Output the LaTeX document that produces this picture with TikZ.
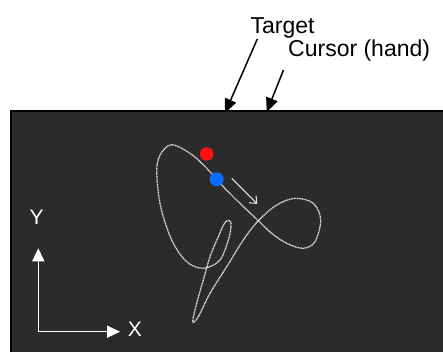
\documentclass[tikz,border=0pt]{standalone}
\usepackage{fontspec}
\setmainfont{Liberation Sans}
\usetikzlibrary{arrows.meta}
\definecolor{bgdark}{HTML}{2B2B2B}
\definecolor{redDot}{HTML}{FF1010}
\definecolor{blueDot}{HTML}{0A6CFF}
\definecolor{trace}{HTML}{E6E6E6}
\tikzset{
  lbl/.style={font=\fontsize{23pt}{26pt}\selectfont, inner sep=0pt, anchor=base},
  axlbl/.style={font=\fontsize{21pt}{24pt}\selectfont, text=white, inner sep=0pt},
  callout/.style={draw=black, line width=1.5pt, -{Triangle[length=14pt,width=12pt]}},
  axis/.style={draw=white, line width=1.5pt, -{Triangle[length=13pt,width=12pt]}},
  tracepath/.style={draw=trace, line width=1.3pt, dash pattern=on 1pt off 0.6pt},
}
\begin{document}
\begin{tikzpicture}[x=1pt,y=-1pt]
\useasboundingbox (0,0) rectangle (443,352);
\fill[white] (0,0) rectangle (443,352);
\draw[black, line width=1.6pt, fill=bgdark] (10.8,111) rectangle (450,360);
% labels
\node[lbl] (target) at (282.5,34) {Target};
\node[lbl, anchor=base west] (cursor) at (288,56.7) {Cursor (hand)};
\coordinate (ttail) at (257.3,39);
\coordinate (ttip) at (225,113);
\coordinate (ctail) at (283.5,70);
\coordinate (ctip) at (266.7,112);
\draw[callout] (ttail) -- (ttip);
\draw[callout] (ctail) -- (ctip);
% trace
\draw[tracepath] plot[smooth cycle, tension=0.55] coordinates {
 (170,145) (157.3,163.3) (160,203.3) (171.7,240) (186.7,261.7) (203.3,268.3)
 (220,260) (229.3,236.7) (230.7,221.7) (225,222.5) (218.3,236.7) (210,256.7)
 (203.3,280) (196.7,303.3) (192.7,321.7) (198.3,316.7) (210,293.3) (226.7,266.7)
 (243.3,240) (258.3,220.7) (276.7,205) (295,198.3) (313.3,203.3) (320.7,220)
 (315,241.7) (303.3,248.3) (286.7,243.3) (271.7,233.3) (258.3,220.7) (240,203.3)
 (223.3,186.7) (206.7,168.3) (190,153.3)};
% dots
\fill[redDot] (206.7,154) circle[radius=6.8pt];
\fill[blueDot] (216.7,179.3) circle[radius=7pt];
% motion arrow
\coordinate (mstart) at (231.7,178.3);
\coordinate (mend) at (257.3,204);
\draw[draw=trace, line width=1pt, -{Straight Barb[length=6pt,width=10pt]}] (mstart) -- (mend);
% axes
\coordinate (origin) at (38.3,331.7);
\coordinate (ytip) at (38.3,248.3);
\coordinate (xtip) at (120,331.7);
\draw[axis] (origin) -- (ytip);
\draw[axis] (origin) -- (xtip);
\node[axlbl] (ylab) at (36.7,217.5) {Y};
\node[axlbl] (xlab) at (135,329) {X};
\end{tikzpicture}
\end{document}
